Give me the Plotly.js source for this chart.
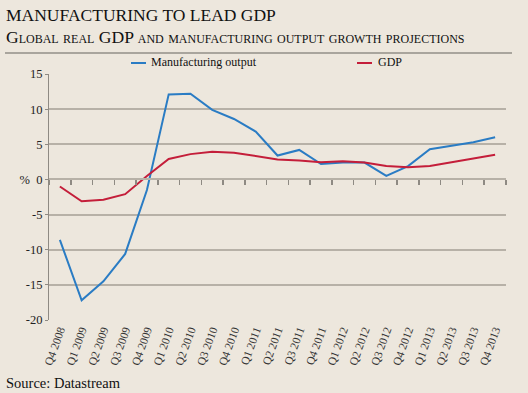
<!DOCTYPE html>
<html><head><meta charset="utf-8">
<script src="https://cdn.plot.ly/plotly-3.0.1.min.js"></script>
<style>html,body{margin:0;padding:0;background:#ede7dd;}#chart{width:528px;height:393px;}</style>
</head><body><div id="chart"></div>
<script>
const quarters = ["Q4 2008","Q1 2009","Q2 2009","Q3 2009","Q4 2009","Q1 2010","Q2 2010","Q3 2010","Q4 2010","Q1 2011","Q2 2011","Q3 2011","Q4 2011","Q1 2012","Q2 2012","Q3 2012","Q4 2012","Q1 2013","Q2 2013","Q3 2013","Q4 2013"];
const manufacturing = [-8.6,-17.2,-14.5,-10.6,-1.5,12.1,12.2,9.9,8.6,6.8,3.4,4.2,2.2,2.4,2.4,0.5,1.9,4.3,4.8,5.3,6.0];
const gdp = [-1.0,-3.1,-2.9,-2.1,0.5,2.9,3.6,3.95,3.8,3.35,2.85,2.7,2.45,2.6,2.4,1.9,1.75,1.9,2.45,3.0,3.5];
const yTickVals = [-20,-15,-10,-5,0,5,10,15];
const yTickText = ["-20","-15","-10","-5","%&nbsp;&nbsp;0","5","10","15"];
const seriesNames = ["Manufacturing output","GDP"];
const colors = ["#2a7cc4","#c41e3a"];

const L=49,R=506,T=74,B=320,W=528,H=393;
const px = x => (x-L)/(R-L);
const py = y => (B-y)/(B-T);
const serif = "Liberation Serif";
const grid = "#b7b1a7";

const traces = [
  {x: quarters, y: manufacturing, type:"scatter", mode:"lines", name:seriesNames[0], line:{color:colors[0], width:2}, hoverinfo:"skip"},
  {x: quarters, y: gdp, type:"scatter", mode:"lines", name:seriesNames[1], line:{color:colors[1], width:2}, hoverinfo:"skip"},
  {x: quarters, y: gdp, type:"scatter", mode:"lines", xaxis:"x2", line:{width:0}, opacity:0, hoverinfo:"skip", showlegend:false}
];

const layout = {
  width:W, height:H,
  paper_bgcolor:"#ede7dd", plot_bgcolor:"#ede7dd",
  margin:{l:L, r:W-R, t:T, b:H-B},
  showlegend:false,
  font:{family:serif, color:"#222", size:12},
  xaxis:{type:"category", categoryarray:quarters, anchor:"free", position:20/35,
         showline:true, linecolor:grid, linewidth:2, ticks:"outside", tickson:"boundaries",
         ticklen:5, tickwidth:1.5, tickcolor:"#8e8a83", showgrid:false, showticklabels:false, zeroline:false,
         range:[-0.5,20.5]},
  xaxis2:{type:"category", categoryarray:quarters, overlaying:"x", matches:"x", anchor:"y", side:"bottom",
          showline:false, ticks:"", showgrid:false, tickangle:-70,
          tickfont:{family:serif, size:11.5, color:"#333"}},
  yaxis:{range:[-20,15], tickvals:yTickVals, ticktext:yTickText, showgrid:true, gridcolor:grid, gridwidth:2,
         zeroline:false, showline:true, linecolor:"#8e8a83", linewidth:1, ticks:"outside", ticklen:3, tickcolor:"#8e8a83",
         tickfont:{family:serif, size:12.5, color:"#222"}},
  shapes:[
    {type:"line", xref:"paper", yref:"paper", x0:px(5), x1:px(512), y0:py(53), y1:py(53), line:{color:"#a9a59d", width:2}},
    {type:"line", xref:"paper", yref:"paper", x0:px(131), x1:px(146), y0:py(63), y1:py(63), line:{color:colors[0], width:2}},
    {type:"line", xref:"paper", yref:"paper", x0:px(357), x1:px(372), y0:py(63), y1:py(63), line:{color:colors[1], width:2}}
  ],
  annotations:[
    {text:"MANUFACTURING TO LEAD GDP", xref:"paper", yref:"paper", x:px(4), y:py(15), xanchor:"left", yanchor:"middle", showarrow:false, font:{family:serif, size:17.5, color:"#111"}},
    {text:"Global real GDP and manufacturing output growth projections", xref:"paper", yref:"paper", x:px(4), y:py(37), xanchor:"left", yanchor:"middle", showarrow:false, font:{family:serif, size:17.6, color:"#111", variant:"small-caps"}},
    {text:seriesNames[0], xref:"paper", yref:"paper", x:px(149), y:py(62), xanchor:"left", yanchor:"middle", showarrow:false, font:{family:serif, size:12, color:"#111"}},
    {text:seriesNames[1], xref:"paper", yref:"paper", x:px(376), y:py(62), xanchor:"left", yanchor:"middle", showarrow:false, font:{family:serif, size:12, color:"#111"}},
    {text:"Source: Datastream", xref:"paper", yref:"paper", x:px(4), y:py(383), xanchor:"left", yanchor:"middle", showarrow:false, font:{family:serif, size:14.5, color:"#111"}}
  ]
};
Plotly.newPlot("chart", traces, layout, {displayModeBar:false, staticPlot:true});
</script></body></html>
